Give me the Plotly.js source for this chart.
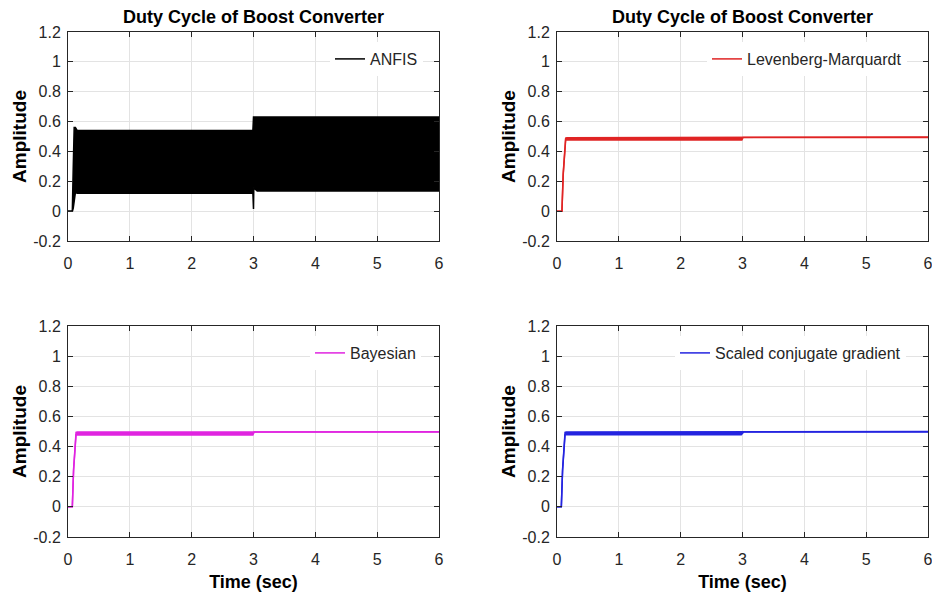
<!DOCTYPE html>
<html>
<head>
<meta charset="utf-8">
<script src="https://cdn.plot.ly/plotly-3.0.1.min.js"></script>
<style>html,body{margin:0;padding:0;background:#fff;}#chart{width:932px;height:594px;}</style>
</head>
<body>
<div id="chart"></div>
<script>
// ---- Data ----
const seriesNames = ["ANFIS", "Levenberg-Marquardt", "Bayesian", "Scaled conjugate gradient"];
const seriesColors = ["#000000", "#e02424", "#e024e0", "#2424e0"];

// ANFIS: dense oscillation band, given as lower/upper envelopes
const anfisTime  = [0, 0.07, 0.085, 0.1, 0.12, 0.15, 1.5, 2.99, 3.0, 3.005, 3.02, 3.06, 4.5, 6.0];
const anfisUpper = [0, 0, 0.30, 0.56, 0.56, 0.54, 0.54, 0.54, 0.63, 0.63, 0.63, 0.63, 0.63, 0.63];
const anfisLower = [0, 0, 0.02, 0.08, 0.125, 0.12, 0.12, 0.12, 0.015, 0.16, 0.15, 0.135, 0.135, 0.135];

// Levenberg-Marquardt
const lmTime  = [0, 0.08, 0.1, 0.14, 0.16, 1.5, 2.99, 3.01, 4.5, 6.0];
const lmUpper = [0, 0, 0.25, 0.49, 0.492, 0.492, 0.492, 0.497, 0.497, 0.497];
const lmLower = [0, 0, 0.24, 0.478, 0.477, 0.477, 0.477, 0.494, 0.494, 0.494];

// Bayesian
const bayTime  = [0, 0.07, 0.09, 0.13, 0.15, 1.5, 2.99, 3.01, 4.5, 6.0];
const bayUpper = [0, 0, 0.25, 0.494, 0.496, 0.496, 0.496, 0.499, 0.499, 0.499];
const bayLower = [0, 0, 0.24, 0.478, 0.477, 0.477, 0.477, 0.496, 0.496, 0.496];

// Scaled conjugate gradient
const scgTime  = [0, 0.07, 0.09, 0.13, 0.15, 1.5, 2.98, 3.02, 4.5, 6.0];
const scgUpper = [0, 0, 0.25, 0.494, 0.496, 0.496, 0.496, 0.5, 0.5, 0.5];
const scgLower = [0, 0, 0.24, 0.478, 0.479, 0.479, 0.479, 0.497, 0.497, 0.497];

// Axis ticks
const xTickVals = [0, 1, 2, 3, 4, 5, 6];
const xTickText = ["0", "1", "2", "3", "4", "5", "6"];
const yTickVals = [-0.2, 0, 0.2, 0.4, 0.6, 0.8, 1, 1.2];
const yTickText = ["-0.2", "0", "0.2", "0.4", "0.6", "0.8", "1", "1.2"];

const chartTitle = "Duty Cycle of Boost Converter";
const xTitle = "Time (sec)";
const yTitle = "Amplitude";

// ---- Build traces ----
const FONT = "Liberation Sans, Arial, Helvetica, sans-serif";
const sets = [
  [anfisTime, anfisLower, anfisUpper],
  [lmTime, lmLower, lmUpper],
  [bayTime, bayLower, bayUpper],
  [scgTime, scgLower, scgUpper]
];
const traces = [];
sets.forEach((s, i) => {
  const ax = i === 0 ? "" : String(i + 1);
  const lg = i === 0 ? "legend" : "legend" + (i + 1);
  traces.push({
    type: "scatter", mode: "lines", x: s[0], y: s[1],
    xaxis: "x" + ax, yaxis: "y" + ax,
    name: seriesNames[i], legend: lg, showlegend: true, legendgroup: "g" + i,
    line: {color: seriesColors[i], width: 1.5}, hoverinfo: "skip"
  });
  traces.push({
    type: "scatter", mode: "lines", x: s[0], y: s[2],
    xaxis: "x" + ax, yaxis: "y" + ax,
    name: seriesNames[i], showlegend: false, legendgroup: "g" + i,
    fill: "tonexty", fillcolor: seriesColors[i],
    line: {color: seriesColors[i], width: 1.5}, hoverinfo: "skip"
  });
});

// ---- Layout ----
const W = 932, H = 594;
const colX = [[68, 439], [557, 928]];
const rowY = [[32, 241], [326, 537]];

function xa(col, row, anchor) {
  return {
    domain: [colX[col][0] / W, colX[col][1] / W],
    anchor: anchor,
    range: [0, 6],
    tickmode: "array", tickvals: xTickVals, ticktext: xTickText,
    ticks: "inside", ticklen: 5, tickcolor: "#262626", tickwidth: 1,
    ticklabelstandoff: 8, ticklabeloverflow: "allow",
    showline: true, linecolor: "#262626", linewidth: 1, mirror: "ticks",
    showgrid: true, gridcolor: "#e3e3e3", gridwidth: 1, zeroline: false,
    tickfont: {family: FONT, size: 16, color: "#262626"},
    title: row === 1 ? {text: "<b>" + xTitle + "</b>", font: {family: FONT, size: 18, color: "#000"}, standoff: 8} : {text: ""}
  };
}
function ya(col, row, anchor) {
  return {
    domain: [1 - rowY[row][1] / H, 1 - rowY[row][0] / H],
    anchor: anchor,
    range: [-0.2, 1.2],
    tickmode: "array", tickvals: yTickVals, ticktext: yTickText,
    ticks: "inside", ticklen: 5, tickcolor: "#262626", tickwidth: 1,
    ticklabelstandoff: 3, ticklabeloverflow: "allow",
    showline: true, linecolor: "#262626", linewidth: 1, mirror: "ticks",
    showgrid: true, gridcolor: "#e3e3e3", gridwidth: 1, zeroline: false,
    tickfont: {family: FONT, size: 16, color: "#262626"},
    title: {text: "<b>" + yTitle + "</b>", font: {family: FONT, size: 19, color: "#000"}, standoff: 1}
  };
}

function leg(textStartPx, centerYPx) {
  return {
    x: (textStartPx - 40) / W, xanchor: "left",
    y: 1 - centerYPx / H, yanchor: "middle",
    bgcolor: "#ffffff", borderwidth: 0,
    font: {family: FONT, size: 16, color: "#262626"},
    itemclick: false, itemdoubleclick: false
  };
}

const layout = {
  width: W, height: H,
  margin: {l: 0, r: 0, t: 0, b: 0},
  paper_bgcolor: "#ffffff", plot_bgcolor: "#ffffff",
  font: {family: FONT, color: "#262626"},
  xaxis: xa(0, 0, "y"), yaxis: ya(0, 0, "x"),
  xaxis2: xa(1, 0, "y2"), yaxis2: ya(1, 0, "x2"),
  xaxis3: xa(0, 1, "y3"), yaxis3: ya(0, 1, "x3"),
  xaxis4: xa(1, 1, "y4"), yaxis4: ya(1, 1, "x4"),
  legend: leg(370, 59),
  legend2: leg(747, 59),
  legend3: leg(350, 353),
  legend4: leg(715, 353),
  annotations: [0, 1].map(c => ({
    text: "<b>" + chartTitle + "</b>",
    xref: "paper", yref: "paper",
    x: (colX[c][0] + colX[c][1]) / 2 / W, y: 1 - 17 / H,
    xanchor: "center", yanchor: "middle", showarrow: false,
    font: {family: FONT, size: 18, color: "#000"}
  }))
};

Plotly.newPlot("chart", traces, layout, {staticPlot: true, displayModeBar: false});
</script>
</body>
</html>
